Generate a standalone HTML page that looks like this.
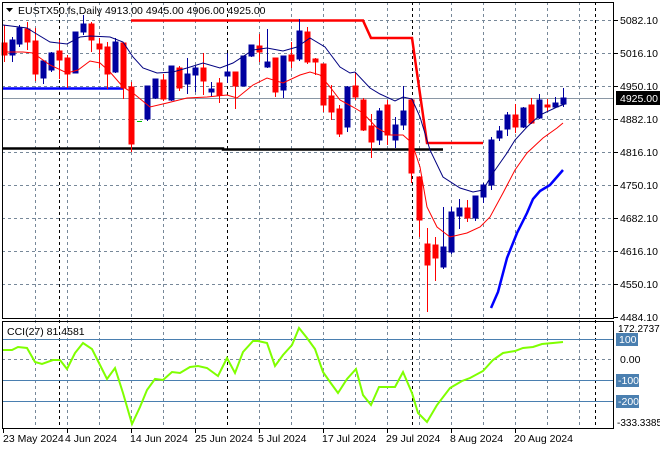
<!DOCTYPE html>
<html><head><meta charset="utf-8"><style>
html,body{margin:0;padding:0;background:#fff;}
svg{display:block;font-family:"Liberation Sans",sans-serif;}
</style></head><body>
<svg width="660" height="450" viewBox="0 0 660 450" xmlns="http://www.w3.org/2000/svg">
<rect width="660" height="450" fill="#fff"/>
<g stroke="#778899" stroke-width="1" stroke-dasharray="3,3" shape-rendering="crispEdges">
<line x1="2" x2="614" y1="20.5" y2="20.5"/><line x1="2" x2="614" y1="53.5" y2="53.5"/>
<line x1="2" x2="614" y1="86.5" y2="86.5"/><line x1="2" x2="614" y1="119.5" y2="119.5"/>
<line x1="2" x2="614" y1="152.5" y2="152.5"/><line x1="2" x2="614" y1="185.5" y2="185.5"/>
<line x1="2" x2="614" y1="218.5" y2="218.5"/><line x1="2" x2="614" y1="251.5" y2="251.5"/>
<line x1="2" x2="614" y1="284.5" y2="284.5"/>
<line x1="2" x2="614" y1="359.5" y2="359.5"/>
<line x1="35.5" x2="35.5" y1="2" y2="428"/><line x1="67.5" x2="67.5" y1="2" y2="428"/>
<line x1="99.5" x2="99.5" y1="2" y2="428"/><line x1="131.5" x2="131.5" y1="2" y2="428"/>
<line x1="163.5" x2="163.5" y1="2" y2="428"/><line x1="195.5" x2="195.5" y1="2" y2="428"/>
<line x1="259.5" x2="259.5" y1="2" y2="428"/><line x1="291.5" x2="291.5" y1="2" y2="428"/>
<line x1="323.5" x2="323.5" y1="2" y2="428"/><line x1="355.5" x2="355.5" y1="2" y2="428"/>
<line x1="387.5" x2="387.5" y1="2" y2="428"/><line x1="419.5" x2="419.5" y1="2" y2="428"/>
<line x1="451.5" x2="451.5" y1="2" y2="428"/><line x1="483.5" x2="483.5" y1="2" y2="428"/>
<line x1="515.5" x2="515.5" y1="2" y2="428"/><line x1="547.5" x2="547.5" y1="2" y2="428"/>
<line x1="579.5" x2="579.5" y1="2" y2="428"/>
</g>
<g stroke="#000" stroke-width="1" stroke-dasharray="3,3" shape-rendering="crispEdges">
<line x1="59.5" x2="59.5" y1="2" y2="428"/><line x1="227.5" x2="227.5" y1="2" y2="428"/>
<line x1="412.5" x2="412.5" y1="2" y2="428"/><line x1="595.5" x2="595.5" y1="2" y2="428"/>
</g>
<g stroke="#4a7fb0" stroke-width="1" shape-rendering="crispEdges">
<line x1="2" x2="614" y1="339.5" y2="339.5"/><line x1="2" x2="614" y1="380.5" y2="380.5"/><line x1="2" x2="614" y1="401.5" y2="401.5"/>
</g>
<line x1="2" x2="614" y1="98.5" y2="98.5" stroke="#8a97a5" stroke-width="1"/>
<line x1="2" x2="123" y1="88.5" y2="88.5" stroke="#0000ff" stroke-width="2.5"/>
<polyline points="2,148.5 223,148.5 223,149.5 443,149.5" fill="none" stroke="#000" stroke-width="2.5"/>
<polyline points="131,20.5 363,20.5 371,38 412,38 427,143 483,143" fill="none" stroke="#ff0000" stroke-width="2.5"/>
<g shape-rendering="crispEdges" stroke-width="1">
<g stroke="#ff0000" fill="#ff0000">
<line x1="4.5" x2="4.5" y1="25" y2="62"/><rect x="2" y="43" width="5" height="12"/>
<line x1="27.5" x2="27.5" y1="22" y2="50"/><rect x="25" y="29" width="5" height="13"/>
<line x1="35.5" x2="35.5" y1="28" y2="81"/><rect x="33" y="41" width="5" height="33"/>
<line x1="59.5" x2="59.5" y1="40" y2="79"/><rect x="57" y="51" width="5" height="9"/>
<line x1="67.5" x2="67.5" y1="55" y2="88"/><rect x="65" y="58" width="5" height="16"/>
<line x1="91.5" x2="91.5" y1="22" y2="52"/><rect x="89" y="24" width="5" height="16"/>
<line x1="99.5" x2="99.5" y1="38" y2="68"/><rect x="97" y="44" width="5" height="5"/>
<line x1="107.5" x2="107.5" y1="42" y2="89"/><rect x="105" y="47" width="5" height="27"/>
<line x1="123.5" x2="123.5" y1="43" y2="99"/><rect x="121" y="43" width="5" height="45"/>
<line x1="131.5" x2="131.5" y1="82" y2="152"/><rect x="129" y="87" width="5" height="57"/>
<line x1="163.5" x2="163.5" y1="74" y2="101"/><rect x="161" y="80" width="5" height="19"/>
<line x1="179.5" x2="179.5" y1="66" y2="91"/><rect x="177" y="68" width="5" height="20"/>
<line x1="203.5" x2="203.5" y1="53" y2="95"/><rect x="201" y="68" width="5" height="13"/>
<line x1="219.5" x2="219.5" y1="78" y2="103"/><rect x="217" y="83" width="5" height="12"/>
<line x1="235.5" x2="235.5" y1="72" y2="109"/><rect x="233" y="72" width="5" height="14"/>
<line x1="259.5" x2="259.5" y1="34" y2="62"/><rect x="257" y="46" width="5" height="6"/>
<line x1="275.5" x2="275.5" y1="58" y2="97"/><rect x="273" y="58" width="5" height="34"/>
<line x1="291.5" x2="291.5" y1="42" y2="68"/><rect x="289" y="55" width="5" height="6"/>
<line x1="307.5" x2="307.5" y1="27" y2="64"/><rect x="305" y="32" width="5" height="30"/>
<line x1="315.5" x2="315.5" y1="58" y2="75"/><rect x="313" y="59" width="5" height="3"/>
<line x1="323.5" x2="323.5" y1="64" y2="112"/><rect x="321" y="64" width="5" height="41"/>
<line x1="331.5" x2="331.5" y1="85" y2="120"/><rect x="329" y="96" width="5" height="16"/>
<line x1="339.5" x2="339.5" y1="105" y2="137"/><rect x="337" y="109" width="5" height="25"/>
<line x1="355.5" x2="355.5" y1="72" y2="100"/><rect x="353" y="86" width="5" height="11"/>
<line x1="363.5" x2="363.5" y1="98" y2="131"/><rect x="361" y="100" width="5" height="30"/>
<line x1="371.5" x2="371.5" y1="114" y2="158"/><rect x="369" y="126" width="5" height="16"/>
<line x1="387.5" x2="387.5" y1="100" y2="145"/><rect x="385" y="105" width="5" height="30"/>
<line x1="411.5" x2="411.5" y1="98" y2="183"/><rect x="409" y="100" width="5" height="73"/>
<line x1="419.5" x2="419.5" y1="177" y2="237"/><rect x="417" y="177" width="5" height="43"/>
<line x1="427.5" x2="427.5" y1="228" y2="312"/><rect x="425" y="244" width="5" height="21"/>
<line x1="435.5" x2="435.5" y1="237" y2="281"/><rect x="433" y="245" width="5" height="13"/>
<line x1="467.5" x2="467.5" y1="200" y2="222"/><rect x="465" y="208" width="5" height="10"/>
<line x1="515.5" x2="515.5" y1="104" y2="133"/><rect x="513" y="115" width="5" height="12"/>
<line x1="531.5" x2="531.5" y1="98" y2="124"/><rect x="529" y="105" width="5" height="18"/>
<line x1="547.5" x2="547.5" y1="99" y2="111"/><rect x="545" y="105" width="5" height="2"/>
</g>
<g stroke="#0000a0" fill="#0000a0">
<line x1="12.5" x2="12.5" y1="37" y2="62"/><rect x="10" y="40" width="5" height="15"/>
<line x1="19.5" x2="19.5" y1="25" y2="47"/><rect x="17" y="28" width="5" height="16"/>
<line x1="43.5" x2="43.5" y1="60" y2="84"/><rect x="41" y="61" width="5" height="17"/>
<line x1="51.5" x2="51.5" y1="52" y2="72"/><rect x="49" y="53" width="5" height="17"/>
<line x1="75.5" x2="75.5" y1="32" y2="73"/><rect x="73" y="32" width="5" height="41"/>
<line x1="83.5" x2="83.5" y1="15" y2="35"/><rect x="81" y="24" width="5" height="8"/>
<line x1="115.5" x2="115.5" y1="38" y2="73"/><rect x="113" y="42" width="5" height="30"/>
<line x1="147.5" x2="147.5" y1="86" y2="121"/><rect x="145" y="86" width="5" height="33"/>
<line x1="155.5" x2="155.5" y1="79" y2="99"/><rect x="153" y="79" width="5" height="19"/>
<line x1="171.5" x2="171.5" y1="66" y2="101"/><rect x="169" y="66" width="5" height="34"/>
<line x1="187.5" x2="187.5" y1="58" y2="94"/><rect x="185" y="74" width="5" height="10"/>
<line x1="195.5" x2="195.5" y1="66" y2="92"/><rect x="193" y="68" width="5" height="7"/>
<line x1="211.5" x2="211.5" y1="82" y2="97"/><rect x="209" y="89" width="5" height="3"/>
<line x1="227.5" x2="227.5" y1="53" y2="83"/><rect x="225" y="72" width="5" height="4"/>
<line x1="243.5" x2="243.5" y1="56" y2="86"/><rect x="241" y="56" width="5" height="30"/>
<line x1="251.5" x2="251.5" y1="45" y2="57"/><rect x="249" y="45" width="5" height="11"/>
<line x1="267.5" x2="267.5" y1="29" y2="68"/><rect x="265" y="62" width="5" height="5"/>
<line x1="283.5" x2="283.5" y1="56" y2="98"/><rect x="281" y="56" width="5" height="34"/>
<line x1="299.5" x2="299.5" y1="19" y2="61"/><rect x="297" y="31" width="5" height="28"/>
<line x1="347.5" x2="347.5" y1="86" y2="132"/><rect x="345" y="87" width="5" height="40"/>
<line x1="379.5" x2="379.5" y1="108" y2="145"/><rect x="377" y="111" width="5" height="29"/>
<line x1="395.5" x2="395.5" y1="117" y2="148"/><rect x="393" y="125" width="5" height="15"/>
<line x1="403.5" x2="403.5" y1="86" y2="130"/><rect x="401" y="111" width="5" height="14"/>
<line x1="443.5" x2="443.5" y1="207" y2="269"/><rect x="441" y="247" width="5" height="20"/>
<line x1="451.5" x2="451.5" y1="207" y2="254"/><rect x="449" y="212" width="5" height="40"/>
<line x1="459.5" x2="459.5" y1="199" y2="229"/><rect x="457" y="208" width="5" height="8"/>
<line x1="475.5" x2="475.5" y1="196" y2="221"/><rect x="473" y="196" width="5" height="22"/>
<line x1="483.5" x2="483.5" y1="183" y2="203"/><rect x="481" y="185" width="5" height="12"/>
<line x1="491.5" x2="491.5" y1="137" y2="190"/><rect x="489" y="140" width="5" height="45"/>
<line x1="499.5" x2="499.5" y1="126" y2="141"/><rect x="497" y="131" width="5" height="7"/>
<line x1="507.5" x2="507.5" y1="112" y2="136"/><rect x="505" y="115" width="5" height="14"/>
<line x1="523.5" x2="523.5" y1="107" y2="128"/><rect x="521" y="108" width="5" height="19"/>
<line x1="539.5" x2="539.5" y1="94" y2="119"/><rect x="537" y="100" width="5" height="18"/>
<line x1="555.5" x2="555.5" y1="97" y2="108"/><rect x="553" y="103" width="5" height="4"/>
<line x1="563.5" x2="563.5" y1="88" y2="107"/><rect x="561" y="98" width="5" height="6"/>
</g>
<line x1="137" x2="142" y1="121.5" y2="121.5" stroke="#00c000"/>
</g>
<polyline fill="none" stroke="#000080" stroke-width="1" points="3,25 27,28 35,33 50,42 67,44 80,37 90,36 110,37 123,42 133,57 143,68 157,73 173,72 187,68 203,63 220,68 233,63 253,50 267,48 283,51 297,47 310,38 325,47 340,67 350,73 355,72 370,88 380,94 395,101 403,97 412,99 420,117 430,150 443,177 460,188 473,192 483,190 493,173 507,153 515,140 527,127 540,115 557,107 565,104"/>
<polyline fill="none" stroke="#ff0000" stroke-width="1" points="2,52 23,52 33,53 50,65 67,73 78,70 90,61 100,63 110,72 123,87 133,93 150,107 167,103 187,98 207,97 227,95 237,98 253,85 267,78 283,83 300,75 310,72 320,75 330,87 340,100 353,107 363,113 377,128 390,135 403,135 412,143 420,167 427,207 437,227 450,237 467,233 480,227 490,217 503,193 515,170 527,153 543,138 557,128 563,123"/>
<polyline fill="none" stroke="#0000ff" stroke-width="2.5" points="491,308 498,292 507,258 517,233 527,213 533,199 540,191 550,185 563,170"/>
<polyline fill="none" stroke="#7fff00" stroke-width="2" points="2,350 12,350 18,347 27,348 35,362 42,364 53,360 60,360 67,369 75,353 83,343 92,349 100,365 107,379 115,368 123,393 132,424 140,407 147,390 155,379 163,380 172,372 180,373 190,367 198,366 207,368 218,376 227,358 235,373 243,352 253,341 258,341 267,343 275,366 283,355 292,345 299,328 307,338 315,349 323,372 330,382 338,393 347,379 356,369 363,395 371,405 379,387 395,387 403,372 412,393 418,413 427,422 437,405 450,388 462,381 470,378 483,371 493,360 503,353 515,351 523,348 533,347 542,344 553,343 563,342"/>
<g fill="none" stroke="#000" stroke-width="1" shape-rendering="crispEdges">
<rect x="2.5" y="2.5" width="611" height="316"/>
<rect x="2.5" y="321.5" width="611" height="107"/>
</g>
<g stroke="#000" shape-rendering="crispEdges">
<line x1="614" x2="618" y1="20.5" y2="20.5"/><line x1="614" x2="618" y1="53.5" y2="53.5"/><line x1="614" x2="618" y1="86.5" y2="86.5"/><line x1="614" x2="618" y1="119.5" y2="119.5"/><line x1="614" x2="618" y1="152.5" y2="152.5"/><line x1="614" x2="618" y1="185.5" y2="185.5"/><line x1="614" x2="618" y1="218.5" y2="218.5"/><line x1="614" x2="618" y1="251.5" y2="251.5"/><line x1="614" x2="618" y1="284.5" y2="284.5"/><line x1="614" x2="618" y1="317.5" y2="317.5"/>
<line x1="3.5" x2="3.5" y1="428" y2="433"/><line x1="67.5" x2="67.5" y1="428" y2="433"/><line x1="131.5" x2="131.5" y1="428" y2="433"/><line x1="195.5" x2="195.5" y1="428" y2="433"/><line x1="259.5" x2="259.5" y1="428" y2="433"/><line x1="323.5" x2="323.5" y1="428" y2="433"/><line x1="387.5" x2="387.5" y1="428" y2="433"/><line x1="451.5" x2="451.5" y1="428" y2="433"/><line x1="515.5" x2="515.5" y1="428" y2="433"/>
</g>
<g font-size="10.5" fill="#000">
<text x="620" y="24">5082.10</text><text x="620" y="57">5016.10</text><text x="620" y="90">4950.10</text><text x="620" y="123">4882.10</text><text x="620" y="156">4816.10</text><text x="620" y="189">4750.10</text><text x="620" y="222">4682.10</text><text x="620" y="255">4616.10</text><text x="620" y="288">4550.10</text><text x="620" y="321">4484.10</text>
<text x="618" y="332" font-size="10">172.2737</text><text x="620" y="363">0.00</text><text x="617" y="426" font-size="10">-333.3385</text>
</g>
<rect x="616" y="91" width="44" height="14" fill="#000"/>
<text x="620" y="102" font-size="10.5" fill="#fff">4925.00</text>
<g font-size="10.5" fill="#fff">
<rect x="616" y="333" width="22" height="13" fill="#4a7fb0"/><text x="619" y="343">100</text>
<rect x="616" y="374" width="23" height="13" fill="#4a7fb0"/><text x="618" y="384">-100</text>
<rect x="616" y="395" width="23" height="13" fill="#4a7fb0"/><text x="618" y="405">-200</text>
</g>
<g font-size="10.5" fill="#000">
<text x="3" y="442">23 May 2024</text><text x="65" y="442">4 Jun 2024</text><text x="130" y="442">14 Jun 2024</text><text x="195" y="442">25 Jun 2024</text><text x="258" y="442">5 Jul 2024</text><text x="322" y="442">17 Jul 2024</text><text x="386" y="442">29 Jul 2024</text><text x="450" y="442">8 Aug 2024</text><text x="514" y="442">20 Aug 2024</text>
</g>
<polygon points="6,8 13,8 9.5,12" fill="#000"/>
<text x="18" y="14" font-size="10.5" fill="#000">EUSTX50.fs,Daily 4913.00 4945.00 4906.00 4925.00</text>
<text x="7" y="335" font-size="10.5" fill="#000">CCI(27) 81.4581</text>
</svg>
</body></html>
